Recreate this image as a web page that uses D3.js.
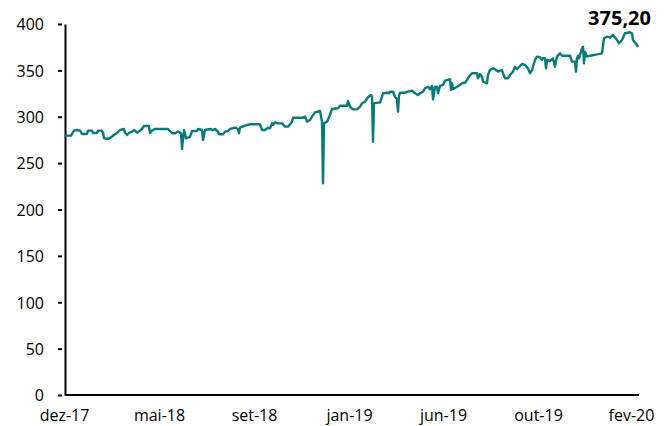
<!DOCTYPE html>
<html>
<head>
<meta charset="utf-8">
<script src="https://cdn.jsdelivr.net/npm/d3@7"></script>
<style>
    html, body { margin: 0; padding: 0; background: #fff; }
    svg { display: block; font-family: "Open Sans", "Noto Sans", sans-serif; }
</style>
</head>
<body>
<svg id="chart" width="672" height="426"></svg>
<script>
(function () {
    "use strict";

    // trading-day index since the start of the series
    const dayIndex = [
        0, 6, 9, 12, 15, 17, 22, 23, 27, 28, 32, 33, 37, 38, 39, 42, 45, 49, 52, 55,
        59, 60, 62, 64, 67, 69, 72, 77, 79, 84, 85, 87, 90, 97,
        103, 105, 107, 110, 113, 116, 117, 119, 121, 125, 127, 132, 133, 137, 138, 140,
        145, 148, 150, 153, 154, 158, 160, 163, 165, 170, 173, 174, 175, 180, 185, 195,
        197, 200, 203, 205, 207, 208, 210, 213, 217, 220, 223, 227, 228, 238, 240, 242,
        245, 247, 250, 255, 257, 258, 259, 262, 265, 267, 273, 275, 282, 283, 285, 288,
        292, 295, 297, 300, 303, 306, 307, 308, 309, 312, 315, 317, 318, 322, 324, 325,
        328, 330, 332, 333, 334, 335, 340, 343, 347, 350, 353, 355, 358, 360, 363, 365,
        367, 368, 370, 372, 373, 375, 378, 380, 385,
        386, 387, 388, 392, 395, 397, 400, 402, 404, 407, 412, 413, 415, 417, 418, 422,
        423, 425, 428, 430, 433, 437, 438, 440, 443, 445, 448, 450, 452, 455, 457, 460,
        463, 465, 467, 470, 472, 475, 477, 478,
        480, 481, 482, 485, 488, 490, 491, 492, 495, 497, 505, 507, 510, 511, 512, 513,
        514, 517, 518, 519, 520, 522, 525, 532, 537, 539, 542, 545, 548, 552, 554, 557,
        560, 565, 567, 568, 572, 573
    ];

    const price = [
        279.6, 279.6, 285.0, 285.7, 285.0, 281.4, 281.4, 285.0, 285.0, 282.5, 282.5, 285.0, 285.0, 282.5, 277.1, 276.0, 277.1, 280.3, 282.5, 285.7,
        286.8, 282.8, 280.3, 282.5, 283.9, 285.7, 282.8, 286.8, 290.0, 290.0, 282.5, 285.0, 286.8, 286.8,
        286.8, 284.6, 282.2, 282.2, 283.9, 282.2, 265.2, 285.7, 276.8, 278.2, 284.6, 284.6, 286.8, 285.7, 274.9, 285.7,
        286.8, 285.7, 286.8, 283.9, 281.1, 281.1, 283.9, 284.6, 286.8, 288.2, 286.8, 282.2, 288.2, 290.4, 291.9, 291.9,
        285.7, 285.7, 288.2, 287.5, 292.9, 291.1, 294.0, 292.9, 292.9, 289.3, 289.3, 294.7, 299.0, 299.0, 300.1, 294.7,
        296.5, 300.1, 304.8, 306.2, 294.7, 228.3, 292.9, 294.7, 301.9, 308.4, 309.1, 311.9, 311.9, 317.0, 310.8, 308.0,
        308.0, 310.8, 314.5, 316.2, 321.0, 323.5, 321.6, 273.1, 314.5, 315.2, 315.2, 321.6, 325.3, 325.9, 325.3, 327.0,
        327.0, 321.6, 318.8, 305.5, 322.4, 325.9, 325.9, 327.0, 328.1, 325.3, 323.5, 325.3, 327.0, 330.7, 332.4, 329.6,
        333.2, 318.8, 332.4, 332.4, 325.3, 333.2, 334.3, 338.9, 340.4,
        328.9, 336.1, 329.6, 332.4, 334.3, 336.1, 336.7, 339.6, 343.2, 346.9, 346.9, 341.5, 346.1, 343.2, 337.8, 336.1,
        345.0, 350.4, 352.2, 351.2, 348.6, 350.4, 346.9, 341.5, 341.5, 345.0, 348.6, 354.0, 351.2, 354.7, 356.9, 355.8,
        352.2, 346.9, 350.4, 361.2, 364.8, 364.1, 361.2, 363.0,
        363.0, 352.2, 361.2, 360.1, 363.0, 354.0, 360.1, 364.8, 368.4, 365.8, 365.8, 359.4, 359.4, 348.6, 363.0, 365.8,
        363.0, 373.8, 375.5, 357.6, 370.2, 364.8, 365.8, 367.3, 368.4, 384.6, 386.3, 385.2, 388.2, 382.8, 379.2, 382.8,
        390.0, 391.1, 390.0, 382.8, 377.4, 375.2
    ];

    const yTicks = [0, 50, 100, 150, 200, 250, 300, 350, 400];
    const xTickDays = [-1, 94, 189, 284, 378, 473, 566];
    const xTickLabels = ["dez-17", "mai-18", "set-18", "jan-19", "jun-19", "out-19", "fev-20"];
    const lastLabel = "375,20";

    const data = dayIndex.map((d, i) => ({ day: d, value: price[i] }));

    const svg = d3.select("#chart");

    const xScale = d3.scaleLinear()
        .domain([0, 574])
        .range([65, 639]);

    const yScale = d3.scaleLinear()
        .domain([0, 400])
        .range([395, 24]);

    // y axis
    const yAxis = d3.axisLeft(yScale)
        .tickValues(yTicks)
        .tickSizeOuter(0)
        .tickFormat(d3.format("d"));

    const gy = svg.append("g")
        .attr("transform", "translate(65,0)")
        .call(yAxis)
        .attr("font-family", null)
        .attr("font-size", 16);

    gy.select(".domain")
        .attr("stroke", "#000")
        .attr("stroke-width", 2);

    gy.selectAll(".tick line")
        .attr("x1", -3)
        .attr("x2", -7)
        .attr("stroke", "#000")
        .attr("stroke-width", 2);

    gy.selectAll(".tick text")
        .attr("x", -21)
        .attr("dy", "0.36em")
        .attr("fill", "#000");

    // x axis
    const xAxis = d3.axisBottom(xScale)
        .tickValues(xTickDays)
        .tickSize(0)
        .tickSizeOuter(0)
        .tickFormat((d, i) => xTickLabels[i]);

    const gx = svg.append("g")
        .attr("transform", "translate(0,395)")
        .call(xAxis)
        .attr("font-family", null)
        .attr("font-size", 16);

    gx.select(".domain")
        .attr("d", "M" + xScale(0) + ",0H" + xScale(574))
        .attr("stroke", "#000")
        .attr("stroke-width", 2);

    gx.selectAll(".tick text")
        .attr("y", 26)
        .attr("dy", 0)
        .attr("fill", "#000");

    // price line
    const line = d3.line()
        .x(d => xScale(d.day))
        .y(d => yScale(d.value));

    svg.append("path")
        .datum(data)
        .attr("fill", "none")
        .attr("stroke", "#087a78")
        .attr("stroke-width", 2.4)
        .attr("stroke-linejoin", "round")
        .attr("d", line);

    // last value label
    const last = data[data.length - 1];

    svg.append("text")
        .attr("x", xScale(last.day) + 13)
        .attr("y", 25)
        .attr("text-anchor", "end")
        .attr("font-size", 20)
        .attr("font-weight", "bold")
        .attr("fill", "#000")
        .text(lastLabel);
}());
</script>
</body>
</html>
